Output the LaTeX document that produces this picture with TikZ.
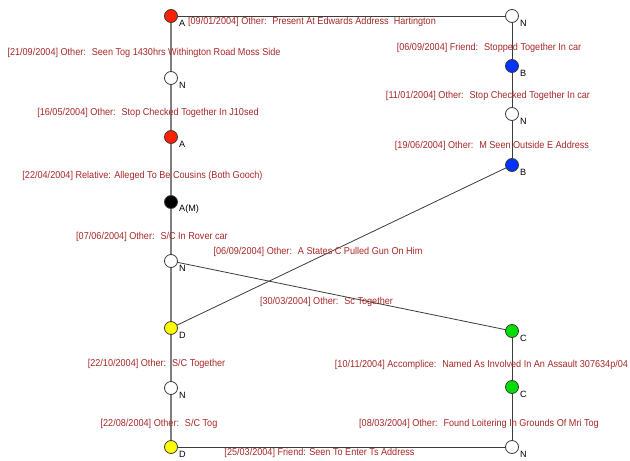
\documentclass[tikz,border=0pt]{standalone}
\usepackage{fontspec}
\setmainfont{Liberation Sans}
\definecolor{lbl}{RGB}{168,40,40}
\definecolor{nred}{RGB}{255,34,0}
\definecolor{nblue}{RGB}{0,51,255}
\definecolor{ngreen}{RGB}{0,221,0}
\definecolor{nyellow}{RGB}{255,255,0}
\definecolor{edark}{RGB}{60,60,60}
\begin{document}
\begin{tikzpicture}[x=1pt,y=-1pt,
  ent/.style={circle,draw=edark,line width=0.8pt,minimum size=13pt,inner sep=0pt},
  lettr/.style={anchor=west,font=\fontsize{9.1}{10}\selectfont,text=black,inner sep=0pt},
  elabel/.style={anchor=center,font=\fontsize{9.1}{10}\selectfont,text=lbl,inner sep=0pt,yscale=1.1},
  link/.style={draw=edark,line width=0.8pt},
  glink/.style={draw=gray,line width=1.6pt}]
\useasboundingbox[fill=white] (0,0) rectangle (630,461);
% edges first (under nodes)
\coordinate (pA1) at (171,16);
\coordinate (pN1) at (171,78);
\coordinate (pA2) at (171,137);
\coordinate (pAM) at (171,202);
\coordinate (pN2) at (171,261);
\coordinate (pD1) at (171,328);
\coordinate (pN3) at (171,388);
\coordinate (pD2) at (171,447);
\coordinate (pNt) at (512,16);
\coordinate (pB1) at (512,66);
\coordinate (pNm) at (512,114);
\coordinate (pB2) at (512,165);
\coordinate (pC1) at (512,331);
\coordinate (pC2) at (512,387);
\coordinate (pNb) at (512,447);
\draw[glink] (pA1) -- (pD2);
\draw[link] (pA1) -- (pNt);
\draw[link] (pNt) -- (pB2);
\draw[link] (pD2) -- (pNb);
\draw[link] (pC1) -- (pNb);
\draw[link] (pN2) -- (pC1);
\draw[link] (pD1) -- (pB2);
% entity nodes
\node[ent,fill=nred] (A1) at (pA1) {};
\node[ent,fill=white] (N1) at (pN1) {};
\node[ent,fill=nred] (A2) at (pA2) {};
\node[ent,fill=black] (AM) at (pAM) {};
\node[ent,fill=white] (N2) at (pN2) {};
\node[ent,fill=nyellow] (D1) at (pD1) {};
\node[ent,fill=white] (N3) at (pN3) {};
\node[ent,fill=nyellow] (D2) at (pD2) {};
\node[ent,fill=white] (Nt) at (pNt) {};
\node[ent,fill=nblue] (B1) at (pB1) {};
\node[ent,fill=white] (Nm) at (pNm) {};
\node[ent,fill=nblue] (B2) at (pB2) {};
\node[ent,fill=ngreen] (C1) at (pC1) {};
\node[ent,fill=ngreen] (C2) at (pC2) {};
\node[ent,fill=white] (Nb) at (pNb) {};
% letters
\foreach \n/\t in {A1/A,N1/N,A2/A,AM/A(M),N2/N,D1/D,N3/N,D2/D,Nt/N,B1/B,Nm/N,B2/B,C1/C,C2/C,Nb/N}
  \node[lettr] (L\n) at ([shift={(8,7)}]\n.center) {\t};
% edge labels
\node[elabel] (e1) at (312,22) {[09/01/2004] Other:~ Present At Edwards Address~ Hartington};
\node[elabel] (e2) at (144,53) {[21/09/2004] Other:~ Seen Tog 1430hrs Withington Road Moss Side};
\node[elabel] (e3) at (148,113) {[16/05/2004] Other:~ Stop Checked Together In J10sed};
\node[elabel] (e4) at (142.5,176) {[22/04/2004] Relative: Alleged To Be Cousins (Both Gooch)};
\node[elabel] (e5) at (152,237) {[07/06/2004] Other:~ S/C In Rover car};
\node[elabel] (e6) at (318,252) {[06/09/2004] Other:~ A States C Pulled Gun On Him};
\node[elabel] (e7) at (326.5,302) {[30/03/2004] Other:~ Sc Together};
\node[elabel] (e8) at (156.5,364) {[22/10/2004] Other:~ S/C Together};
\node[elabel] (e9) at (159,424) {[22/08/2004] Other:~ S/C Tog};
\node[elabel] (e10) at (319.5,453) {[25/03/2004] Friend: Seen To Enter Ts Address};
\node[elabel] (e11) at (489,47.5) {[06/09/2004] Friend:~ Stopped Together In car};
\node[elabel] (e12) at (488,96) {[11/01/2004] Other:~ Stop Checked Together In car};
\node[elabel] (e13) at (492,146) {[19/06/2004] Other:~ M Seen Outside E Address};
\node[elabel] (e14) at (481.5,365) {[10/11/2004] Accomplice:~ Named As Involved In An Assault 307634p/04};
\node[elabel] (e15) at (479,424) {[08/03/2004] Other:~ Found Loitering In Grounds Of Mri Tog};
\end{tikzpicture}
\end{document}
